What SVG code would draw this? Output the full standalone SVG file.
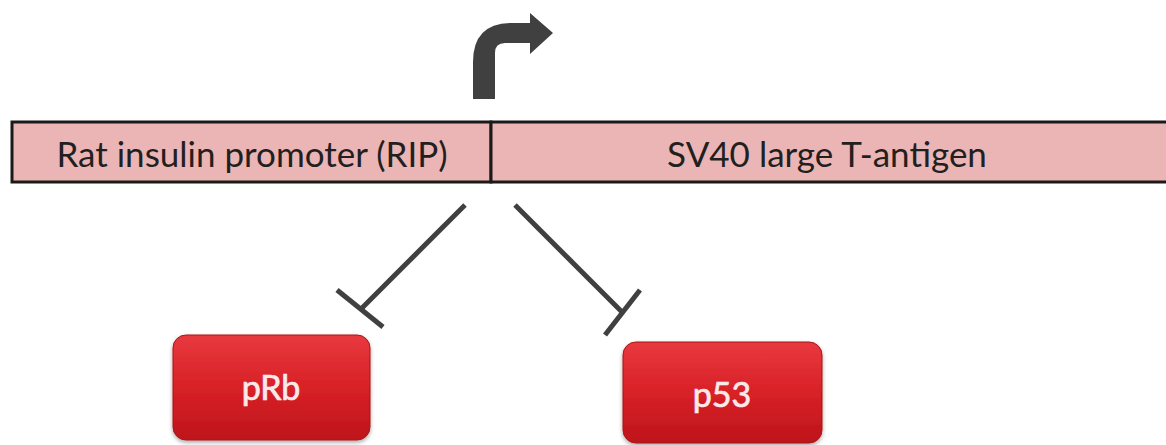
<svg xmlns="http://www.w3.org/2000/svg" width="1166" height="445" viewBox="0 0 1166 445">
  <defs>
    <linearGradient id="redFill" x1="0" y1="0" x2="0" y2="1">
      <stop offset="0" stop-color="#e8393e"/>
      <stop offset="0.5" stop-color="#d82127"/>
      <stop offset="1" stop-color="#bd151b"/>
    </linearGradient>
    <filter id="soft" x="-10%" y="-10%" width="120%" height="130%">
      <feGaussianBlur in="SourceAlpha" stdDeviation="2"/>
      <feOffset dy="2"/>
      <feComponentTransfer><feFuncA type="linear" slope="0.35"/></feComponentTransfer>
      <feMerge><feMergeNode/><feMergeNode in="SourceGraphic"/></feMerge>
    </filter>
  </defs>
  <style>
    .bar { fill: #ebb5b5; stroke: #1a1a1a; stroke-width: 3; }
    .barText { font-family: Lato, "Open Sans", sans-serif; font-size: 35px; fill: #231f20; text-anchor: middle; }
    .protein { fill: url(#redFill); stroke: #a81318; stroke-width: 1; filter: url(#soft); }
    .proteinText { font-family: Lato, "Open Sans", sans-serif; font-size: 34px; fill: #fbe9ea; stroke: #fbe9ea; stroke-width: 0.7; text-anchor: middle; }
    .inhibit { stroke: #404040; stroke-width: 5; fill: none; stroke-linecap: butt; }
  </style>
  <rect width="1166" height="445" fill="#ffffff"/>

  <!-- transcription start site -->
  <g id="tss">
    <path d="M473,99 L473,62 Q473,23 512,23 L530,23 L530,13 L553,33 L530,54 L530,43 L505,43 Q495,43 495,53 L495,99 Z" fill="#404040"/>
  </g>

  <!-- transgene construct -->
  <g id="rip">
    <rect class="bar" x="12" y="122" width="479" height="60"/>
    <text class="barText" x="252" y="167">Rat insulin promoter (RIP)</text>
  </g>
  <g id="tag">
    <path class="bar" d="M1170,122 L491,122 L491,182 L1170,182"/>
    <text class="barText" x="827" y="167">SV40 large T-antigen</text>
  </g>

  <!-- inhibition connectors -->
  <g id="connectors">
    <line class="inhibit" x1="465" y1="205" x2="362" y2="308"/>
    <line class="inhibit" x1="337" y1="290" x2="383" y2="327"/>
    <line class="inhibit" x1="515" y1="205" x2="622" y2="312"/>
    <line class="inhibit" x1="640" y1="290" x2="605" y2="335"/>
  </g>

  <!-- target proteins -->
  <g id="pRb">
    <rect class="protein" x="173" y="335" width="197" height="105" rx="13"/>
    <text class="proteinText" x="271" y="400">pRb</text>
  </g>
  <g id="p53">
    <rect class="protein" x="623" y="342" width="199" height="101" rx="13"/>
    <text class="proteinText" x="722" y="407">p53</text>
  </g>
</svg>
